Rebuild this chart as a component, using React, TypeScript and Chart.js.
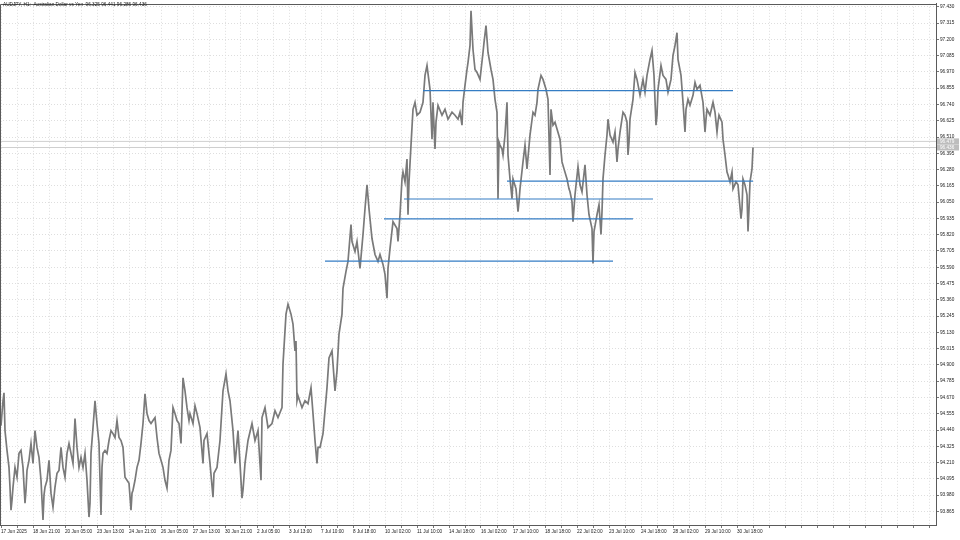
import React, { useEffect, useRef } from "react";
import { Chart, registerables } from "chart.js";

Chart.register(...registerables);

const chartTitle = "AUDJPY, H1:  Australian Dollar vs Yen  96.325 96.441 96.286 96.436";

// hourly bar number (from first bar) and close price
const bars = [
  0, 1, 3, 4, 5, 7, 9, 10, 11, 12, 13, 15, 17, 19, 21, 23, 25, 26, 27, 29, 31, 33, 35, 37, 39, 41, 43, 44, 45, 47, 49,
  51, 53, 55, 57, 59, 61, 63, 65, 67, 69, 71, 73, 75, 77, 79, 81, 83, 85, 87, 89, 90, 91, 93, 95, 97, 99, 101, 102,
  103, 105, 107, 109, 111, 113, 115, 117, 119, 121, 123, 125, 127, 129, 131, 132, 133, 135, 137, 139, 141, 143, 145,
  147, 149, 151, 153, 155, 157, 159, 161, 163, 165, 167, 169, 171, 173, 175, 177, 179, 181, 183, 185, 187, 189,
  190, 193, 195, 197, 200, 203, 204, 207, 210, 213, 214, 217, 220, 223, 226, 228, 230, 233, 235, 236, 238, 240, 242,
  243, 245, 248, 252, 255, 258, 261, 262, 265, 268, 272, 275, 278, 282, 283, 286, 288, 291, 293, 295, 296, 297, 298,
  302, 305, 308, 311, 313, 315, 317, 318, 320, 323, 327, 329, 332, 333, 335, 337, 339, 342, 343, 346, 348, 351, 352,
  355, 357, 360, 363, 365, 367, 369, 372, 375, 378,
  380, 383, 385, 387, 388, 390, 393, 397, 398, 400, 402, 403, 405, 407, 408, 409, 411, 413, 415, 417, 420, 423, 425,
  427, 430, 432, 433, 435, 436, 438, 442, 445, 448, 452, 455, 458, 460, 462, 463, 465, 467, 468, 470, 471, 473, 475,
  477, 480, 483, 484, 486, 488, 491, 493, 495, 497, 498, 499, 500, 502, 503, 505, 507, 508, 510, 512, 513, 516, 518,
  519, 520, 523, 525, 527, 530, 533, 535, 537, 538, 541, 543, 546, 548, 550, 551, 553, 555, 557, 560, 562, 564, 567, 569,
  570, 572, 573, 575, 578, 580, 582, 585, 587, 589, 592, 593, 594, 597, 599, 601, 602, 603, 605, 607, 608, 610, 613,
  615, 617, 618, 620, 623, 625, 627, 628, 629, 630, 633, 635, 637, 640, 643, 645, 647, 650, 652, 654, 656, 657, 658,
  661, 663, 666, 668, 671, 673, 675, 677, 678, 681, 683, 685, 686, 688, 690, 693, 695, 697, 700, 703, 705, 706, 707,
  710, 713, 715, 717, 718, 719, 722, 723, 725, 727, 728, 730, 732, 733, 736, 738, 741, 742, 743, 745, 747, 748, 749,
  750, 752, 753,
];

const closes = [
  94.542, 94.471, 94.647, 94.703, 94.436, 94.296, 94.176, 94.036, 93.874, 93.944, 94.036, 94.176, 94.106, 94.275,
  94.296, 94.176, 93.923, 94.015, 94.155, 94.226, 94.345, 94.204, 94.436, 94.317, 94.247, 94.085, 93.804, 93.98,
  94.036, 94.085, 94.226, 93.994, 93.895, 94.036, 94.134, 94.155, 94.317, 94.176, 94.106, 94.275, 94.345, 94.275,
  94.204, 94.521, 94.317, 94.176, 94.247, 94.176, 94.275, 94.085, 93.825, 93.923, 94.275, 94.457, 94.647, 94.486,
  94.345, 93.839, 94.176, 94.275, 94.296, 94.275, 94.366, 94.436, 94.415, 94.387, 94.507, 94.387, 94.366, 94.317,
  94.106, 94.085, 94.064, 93.874, 93.994, 94.015, 94.085, 94.176, 94.226, 94.345, 94.486, 94.696, 94.556, 94.507,
  94.486, 94.507, 94.528, 94.387, 94.275, 94.226, 94.176, 94.085, 94.029, 94.226, 94.296, 94.598, 94.556, 94.507,
  94.486, 94.345, 94.809, 94.717, 94.598, 94.507,
  94.556, 94.486, 94.612, 94.556, 94.457, 94.204, 94.366, 94.415, 94.204, 93.966, 94.134, 94.176, 94.366, 94.717,
  94.837, 94.717, 94.647, 94.436, 94.204, 94.275, 94.436, 94.204, 93.959, 94.015, 94.204, 94.366, 94.486, 94.366,
  94.436, 94.085, 94.528, 94.598, 94.457, 94.486, 94.577, 94.528, 94.598, 94.907, 95.259, 95.329, 95.259, 95.188,
  94.999, 95.069, 94.647, 94.682, 94.598, 94.647, 94.626, 94.739, 94.556, 94.366, 94.204, 94.317, 94.317, 94.415,
  94.739, 94.949, 94.999, 94.907, 94.717, 94.858, 95.118, 95.259, 95.441, 95.561, 95.631, 95.891, 95.772, 95.701,
  95.772, 95.582, 95.821, 96.003, 96.172, 96.003, 95.793, 95.68, 95.631,
  95.68, 95.61, 95.54, 95.371, 95.582, 95.722, 95.912, 95.863, 95.772, 95.961, 96.214, 96.263, 96.193, 96.355,
  95.961, 96.193, 96.453, 96.706, 96.755, 96.664, 96.685, 96.755, 96.945, 97.015, 96.847, 96.495, 96.755, 96.425,
  96.615, 96.734, 96.664, 96.706, 96.636, 96.685, 96.664, 96.636, 96.685, 96.594, 96.755, 96.875, 96.987, 97.036,
  97.156, 97.402, 97.128, 96.987, 96.966, 96.917, 97.107, 97.177, 97.297, 97.107, 96.987, 96.917, 96.776, 96.685,
  96.074, 96.474, 96.453, 96.425, 96.383, 96.524, 96.755, 96.383, 96.214, 96.074, 96.214, 96.144, 95.982, 96.053,
  96.144, 96.334, 96.453, 96.285, 96.524, 96.685, 96.664, 96.755, 96.847, 96.945, 96.917, 96.847, 96.776, 96.242,
  96.706, 96.594, 96.615, 96.566, 96.495, 96.334, 96.285, 96.214, 96.144,
  96.123, 96.053, 95.912, 96.102, 96.299, 96.172, 96.123, 96.313, 96.102, 95.961, 95.863, 95.617, 95.842, 95.961,
  96.032, 95.821, 95.982, 96.214, 96.383, 96.524, 96.636, 96.524, 96.474, 96.545, 96.334, 96.425, 96.545, 96.685,
  96.664, 96.615, 96.383, 96.474, 96.636, 96.776, 96.966, 96.917, 96.805, 96.917, 96.826, 96.945, 97.058, 97.121,
  96.945, 96.594, 96.664, 96.847, 97.015, 96.945, 96.917, 96.826, 96.917, 97.086, 97.156, 97.247, 97.058, 96.945,
  96.755, 96.545, 96.706, 96.776, 96.734, 96.805, 96.896, 96.847, 96.875, 96.755, 96.545, 96.636, 96.706, 96.664,
  96.755, 96.685, 96.545, 96.615, 96.664, 96.615, 96.495, 96.383, 96.263, 96.242, 96.193, 96.263, 96.144, 96.193,
  96.172, 95.933, 96.003, 96.214, 96.172, 96.102, 95.842, 96.003, 96.193, 96.285, 96.436,
];

const priceTicks = [
  97.43, 97.315, 97.2, 97.085, 96.97, 96.855, 96.74, 96.625, 96.51, 96.395, 96.28, 96.165, 96.05, 95.935, 95.82,
  95.705, 95.59, 95.475, 95.36, 95.245, 95.13, 95.015, 94.9, 94.785, 94.67, 94.555, 94.44, 94.325, 94.21, 94.095,
  93.98, 93.865,
];

const timeLabels = [
  "17 Jun 2025", "18 Jun 21:00", "20 Jun 05:00", "23 Jun 13:00", "24 Jun 21:00", "26 Jun 05:00",
  "27 Jun 13:00", "30 Jun 21:00", "2 Jul 05:00", "3 Jul 13:00", "7 Jul 10:00", "8 Jul 18:00",
  "10 Jul 02:00", "11 Jul 10:00", "14 Jul 18:00", "16 Jul 02:00", "17 Jul 10:00", "18 Jul 18:00",
  "22 Jul 02:00", "23 Jul 10:00", "24 Jul 18:00", "28 Jul 02:00", "29 Jul 10:00", "30 Jul 18:00",
];

// horizontal levels drawn on the chart
const levelPrices = [96.838, 96.198, 96.072, 95.931, 95.633];
const levelFrom = [423, 507, 404, 384, 325];
const levelTo = [733, 753, 653, 633, 613];

const askPrice = 96.479;
const bidPrice = 96.436;

const X_MIN = 0;
const X_MAX = 936;
const Y_MIN = 93.769;
const Y_MAX = 97.451;

const LEVEL_COLOR = "rgb(52,125,196)";

export default function App() {
  const canvasRef = useRef<HTMLCanvasElement | null>(null);

  useEffect(() => {
    const canvas = canvasRef.current;
    if (!canvas) return;
    Chart.defaults.font.family = "'Liberation Sans', Arial, sans-serif";

    const levelSets = levelPrices.map((p, i) => ({
      type: "line" as const,
      label: "level " + (i + 1),
      data: [
        { x: levelFrom[i], y: p },
        { x: levelTo[i], y: p },
      ],
      borderColor: LEVEL_COLOR,
      backgroundColor: LEVEL_COLOR,
      borderWidth: 1.2,
      borderDash: [],
      fill: false,
      pointRadius: 0,
      order: 0,
    }));

    const quoteLines = [askPrice, bidPrice].map((p, i) => ({
      type: "line" as const,
      label: i === 0 ? "Ask" : "Bid",
      data: [
        { x: X_MIN, y: p },
        { x: X_MAX, y: p },
      ],
      borderColor: "#cfcfcf",
      backgroundColor: "#cfcfcf",
      borderWidth: 1,
      fill: false,
      pointRadius: 0,
      order: 3,
    }));

    const framePlugin = {
      id: "frame",
      afterDraw(chart: any) {
        const { ctx, chartArea } = chart;
        ctx.save();
        ctx.strokeStyle = "#5a5a5a";
        ctx.lineWidth = 1;
        ctx.setLineDash([]);
        ctx.beginPath();
        ctx.moveTo(Math.round(chartArea.left) + 0.5, Math.round(chartArea.bottom));
        ctx.lineTo(Math.round(chartArea.left) + 0.5, Math.round(chartArea.top) + 0.5);
        ctx.lineTo(Math.round(chartArea.right), Math.round(chartArea.top) + 0.5);
        ctx.stroke();
        // title
        ctx.fillStyle = "#222";
        ctx.font = "4.7px 'Liberation Sans', Arial, sans-serif";
        ctx.textBaseline = "middle";
        ctx.textAlign = "left";
        ctx.fillText(chartTitle, 3, 4.5);
        // price boxes on the axis
        const ys = chart.scales.y;
        [askPrice, bidPrice].forEach((p) => {
          const y = ys.getPixelForValue(p);
          ctx.fillStyle = "#bdbdbd";
          ctx.fillRect(chartArea.right + 1, y - 3, 22, 6);
          ctx.fillStyle = "#ffffff";
          ctx.fillText(p.toFixed(3), chartArea.right + 4, y + 0.3);
        });
        ctx.restore();
      },
    };

    const gridOpts = {
      color: "#dedede",
      lineWidth: 1,
      tickLength: 3,
      tickColor: "#777777",
      tickBorderDash: [],
    };

    const chart = new Chart(canvas, {
      type: "line",
      data: {
        datasets: [
          {
            label: "AUDJPY",
            data: bars.map((b, i) => ({ x: b, y: closes[i] })),
            borderColor: "#7a7a7a",
            backgroundColor: "#7a7a7a",
            borderWidth: 1.7,
            fill: false,
            pointRadius: 0,
            tension: 0,
            order: 1,
          },
          ...levelSets,
          ...quoteLines,
        ],
      },
      options: {
        animation: false,
        responsive: false,
        maintainAspectRatio: false,
        events: [],
        layout: { padding: { top: 1, left: 0, right: 0, bottom: 0 } },
        plugins: {
          legend: { display: false },
          tooltip: { enabled: false },
          title: { display: false },
          colors: { enabled: false },
        },
        scales: {
          x: {
            type: "linear",
            position: "bottom",
            min: X_MIN,
            max: X_MAX,
            afterBuildTicks: (scale: any) => {
              const t: any[] = [];
              for (let v = 1; v < X_MAX; v += 16) t.push({ value: v });
              scale.ticks = t;
            },
            afterFit: (scale: any) => {
              scale.height = 15;
            },
            ticks: {
              autoSkip: false,
              maxRotation: 0,
              minRotation: 0,
              align: "start",
              padding: 1,
              color: "#222",
              font: { size: 4.7 },
              callback: (_v: any, i: number) => (i % 2 === 0 ? timeLabels[i / 2] ?? "" : ""),
            },
            grid: gridOpts,
            border: { display: true, color: "#5a5a5a", width: 1, dash: [1, 2] },
          },
          y: {
            type: "linear",
            position: "right",
            min: Y_MIN,
            max: Y_MAX,
            afterBuildTicks: (scale: any) => {
              scale.ticks = priceTicks.map((v) => ({ value: v }));
            },
            afterFit: (scale: any) => {
              scale.width = 24;
            },
            ticks: {
              autoSkip: false,
              padding: 1,
              color: "#222",
              font: { size: 4.7 },
              callback: (v: any) => Number(v).toFixed(3),
            },
            grid: gridOpts,
            border: { display: true, color: "#5a5a5a", width: 1, dash: [1, 2] },
          },
        },
      },
      plugins: [framePlugin],
    } as any);

    return () => chart.destroy();
  }, []);

  return (
    <div style={{ position: "fixed", left: 0, top: 0, width: 960, height: 540, background: "#fff" }}>
      <canvas ref={canvasRef} width={960} height={540} style={{ width: 960, height: 540, display: "block" }} />
    </div>
  );
}
